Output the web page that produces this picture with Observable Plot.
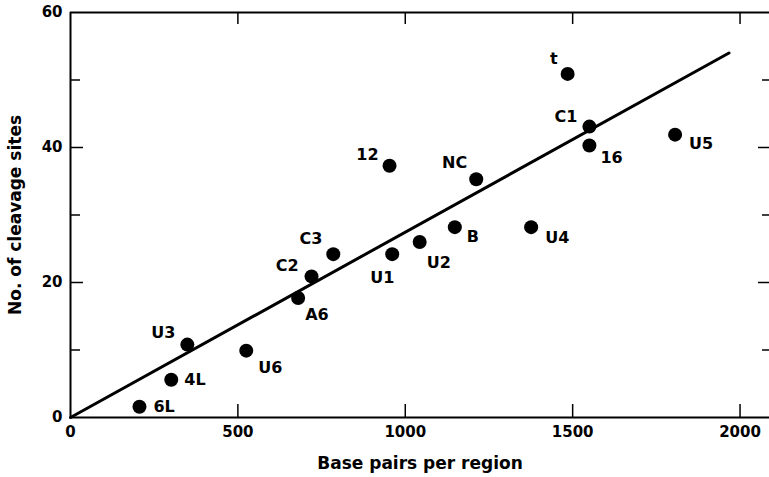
<!DOCTYPE html>
<html>
<head>
<meta charset="utf-8">
<script src="https://cdn.jsdelivr.net/npm/d3@7"></script>
<script src="https://cdn.jsdelivr.net/npm/@observablehq/plot@0.6"></script>
<style>
  html, body { margin: 0; padding: 0; background: #fff; }
  #chart svg { display: block; }
</style>
</head>
<body>
<div id="chart"></div>
<script>
// Regions (names), base pairs per region, and number of cleavage sites
const regionNames = ["6L", "4L", "U3", "U6", "A6", "C2", "C3", "U1", "U2", "B", "U4", "12", "NC", "t", "C1", "16", "U5"];
const basePairs   = [206, 301, 349, 525, 680, 720, 785, 961, 1043, 1148, 1376, 953, 1212, 1485, 1550, 1550, 1806];
const cleavageSites = [1.6, 5.6, 10.8, 9.9, 17.7, 20.9, 24.2, 24.2, 26.0, 28.2, 28.2, 37.3, 35.3, 50.9, 43.1, 40.3, 41.9];

// Fitted line endpoints (base pairs, sites)
const fitBasePairs = [0, 1967];
const fitSites = [0, 54];

// Axis ticks
const xTickValues = [0, 500, 1000, 1500, 2000];
const xInnerTicks = [500, 1000, 1500, 2000];
const yTickValues = [0, 20, 40, 60];
const yMajorTicks = [20, 40];
const yMinorTicks = [10, 30, 50];

// Label placement styles: [dx, dy, textAnchor]
const labelStyle = {
  "6L": [14, 0, "start"],
  "4L": [13, 0, "start"],
  "U3": [-12, -12, "end"],
  "U6": [12, 17, "start"],
  "A6": [7, 17, "start"],
  "C2": [-13, -11, "end"],
  "C3": [-11, -15, "end"],
  "U1": [-10, 24, "middle"],
  "U2": [7, 21, "start"],
  "B":  [12, 10, "start"],
  "U4": [14, 11, "start"],
  "12": [-11, -11, "end"],
  "NC": [-9, -16, "end"],
  "t":  [-10, -15, "end"],
  "C1": [-12, -10, "end"],
  "16": [11, 12, "start"],
  "U5": [14, 9, "start"]
};

const points = regionNames.map((name, i) => ({name, bp: basePairs[i], sites: cleavageSites[i]}));
const fit = fitBasePairs.map((bp, i) => ({bp, sites: fitSites[i]}));

const W = 769, H = 477, mL = 70, mR = 0, mT = 12, mB = 60;
const frameW = W - mL - mR, frameH = H - mT - mB;
const font = "'DejaVu Sans', sans-serif";

const labelMarks = regionNames.map(n => {
  const [dx, dy, anchor] = labelStyle[n];
  return Plot.text(points.filter(p => p.name === n), {
    x: "bp", y: "sites", text: "name", dx, dy, textAnchor: anchor,
    lineAnchor: "middle", fontSize: 16, fontWeight: "bold", fill: "black", ariaLabel: "point-label"
  });
});

const chart = Plot.plot({
  width: W, height: H,
  marginLeft: mL, marginRight: mR, marginTop: mT, marginBottom: mB,
  style: {fontFamily: font, background: "white", color: "black"},
  x: {domain: [0, 2088], axis: null},
  y: {domain: [0, 60], axis: null},
  marks: [
    // frame sides
    Plot.ruleX([0], {stroke: "black", strokeWidth: 2}),
    Plot.ruleY([0, 60], {stroke: "black", strokeWidth: 2}),
    // inward ticks
    Plot.tickX(xInnerTicks, {x: d => d, insetTop: frameH - 13, stroke: "black", strokeWidth: 1.5}),
    Plot.tickX(xInnerTicks, {x: d => d, insetBottom: frameH - 12, stroke: "black", strokeWidth: 1.5}),
    Plot.tickY(yMajorTicks, {y: d => d, insetRight: frameW - 13, stroke: "black", strokeWidth: 1.5}),
    Plot.tickY(yMinorTicks, {y: d => d, insetRight: frameW - 10, stroke: "black", strokeWidth: 1.5}),
    Plot.tickY(yMajorTicks, {y: d => d, insetLeft: frameW - 11, stroke: "black", strokeWidth: 1.5}),
    Plot.tickY(yMinorTicks, {y: d => d, insetLeft: frameW - 7, stroke: "black", strokeWidth: 1.5}),
    // tick labels
    Plot.text(xTickValues, {x: d => d, frameAnchor: "bottom", dy: 15, lineAnchor: "middle", textAnchor: "middle",
      text: d => String(d), fontSize: 15, fontWeight: "bold", fill: "black", ariaLabel: "tick-label"}),
    Plot.text(yTickValues, {y: d => d, frameAnchor: "left", dx: -8, textAnchor: "end", lineAnchor: "middle",
      text: d => String(d), fontSize: 15, fontWeight: "bold", fill: "black", ariaLabel: "tick-label"}),
    // axis titles
    Plot.text(["Base pairs per region"], {frameAnchor: "bottom", dy: 46, lineAnchor: "middle", textAnchor: "middle",
      text: d => d, fontSize: 17, fontWeight: "bold", fill: "black", ariaLabel: "axis-title"}),
    Plot.text(["No. of cleavage sites"], {frameAnchor: "left", dx: -55, rotate: -90, lineAnchor: "middle", textAnchor: "middle",
      text: d => d, fontSize: 17, fontWeight: "bold", fill: "black", ariaLabel: "axis-title"}),
    // fitted line
    Plot.line(fit, {x: "bp", y: "sites", stroke: "black", strokeWidth: 3}),
    // data points
    Plot.dot(points, {x: "bp", y: "sites", r: 7, fill: "black", stroke: "none"}),
    ...labelMarks
  ]
});

const svg = d3.select(chart);
svg.selectAll('g[aria-label="tick-label"] text').style("letter-spacing", "1px");
svg.selectAll('g[aria-label="axis-title"] text').style("letter-spacing", "0.8px");

document.getElementById("chart").appendChild(chart);
</script>
</body>
</html>
